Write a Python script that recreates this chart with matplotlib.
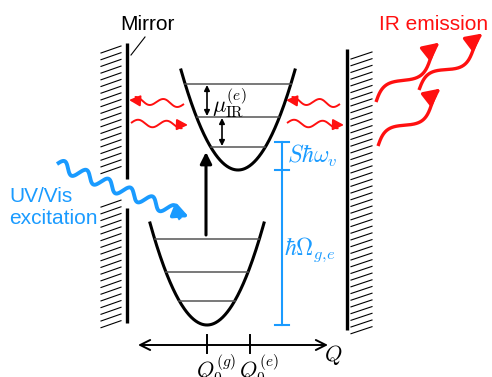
import numpy as np
import matplotlib.pyplot as plt

plt.rcParams['font.family'] = ['Liberation Sans', 'DejaVu Sans']
plt.rcParams['mathtext.fontset'] = 'cm'

RED = '#ff1010'
BLUE = '#1a9bff'
GRAY = '#555555'

# layout of the sketch, in pixel units of the 492x377 canvas
left_mirror_x = 127
left_mirror_spans = [(43, 179), (208, 323)]
right_mirror_x = 347
right_mirror_spans = [(49, 330)]

# parabolas: vertex x, vertex y, half width, height, vibrational levels (y)
excited = dict(x0=238, y0=170, half=57, h=100, levels=[84, 117, 147])
ground = dict(x0=207, y0=325, half=57, h=102, levels=[239, 272, 301])

# bracket ticks (y) for S*hbar*omega_v and hbar*Omega_ge
bracket_x = 282
bracket_ticks = [142, 170, 325]

# Q axis
q_axis_y = 345
q_axis_ends = (138, 328)
q_ticks = [207, 250]
q_tick_labels = [r'$Q_0^{(g)}$', r'$Q_0^{(e)}$']

# wavy arrows: (start, end, periods, amplitude)
cavity_waves = [((184, 104), (129, 100), 2.0, 3.5),
                ((131, 123), (188, 125), 2.0, 3.5),
                ((340, 104), (286, 100), 2.0, 3.5),
                ((287, 123), (344, 125), 2.0, 3.5)]
ir_waves = [((376, 102), (444, 48), 1.25, 7.0),
            ((419, 90), (487, 39), 1.25, 7.0),
            ((378, 146), (445, 94), 1.25, 7.0)]
uv_wave = ((57, 164), (189, 217), 6.0, 5.5)


def wavy_arrow(ax, p0, p1, periods, amp, color, lw, head, sign=1):
    p0 = np.array(p0, float)
    p1 = np.array(p1, float)
    d = p1 - p0
    length = np.hypot(*d)
    u = d / length
    n = np.array([u[1], -u[0]])
    t = np.linspace(0, 1, 400)
    pts = p0 + np.outer(t, d) + np.outer(sign * amp * np.sin(2 * np.pi * periods * t), n)
    hl = head * 0.5 * 100 / 72  # head length in px
    keep = t * length < length - 0.6 * hl
    ax.plot(pts[keep, 0], pts[keep, 1], color=color, lw=lw, solid_capstyle='butt')
    tip = pts[-1]
    ax.annotate('', xy=tip, xytext=tip - u * hl,
                arrowprops=dict(arrowstyle='-|>,head_length=0.5,head_width=0.25',
                                color=color, lw=lw,
                                mutation_scale=head, shrinkA=0, shrinkB=0))


def parabola(ax, p):
    x = np.linspace(p['x0'] - p['half'], p['x0'] + p['half'], 200)
    k = p['h'] / p['half'] ** 2
    ax.plot(x, p['y0'] - k * (x - p['x0']) ** 2, color='black', lw=2.2)
    for ly in p['levels']:
        dx = np.sqrt((p['y0'] - ly) / k)
        ax.plot([p['x0'] - dx, p['x0'] + dx], [ly, ly], color=GRAY, lw=1.1)


def mirror(ax, x, spans, side, skip=None):
    for y0, y1 in spans:
        ax.plot([x, x], [y0, y1], color='black', lw=2.4, solid_capstyle='butt')
    top = spans[0][0]
    bottom = spans[-1][1]
    for y in np.arange(top + 4, bottom + 2, 6.7):
        if skip and skip[0] < y < skip[1]:
            continue
        if side == 'left':
            ax.plot([x - 26, x - 6], [y + 6, y - 1], color='black', lw=0.8)
        else:
            ax.plot([x + 4, x + 25], [y + 6, y - 1], color='black', lw=0.8)


fig = plt.figure(figsize=(4.92, 3.77), dpi=100)
ax = fig.add_axes([0, 0, 1, 1])
ax.set_xlim(0, 492)
ax.set_ylim(377, 0)
ax.axis('off')

mirror(ax, left_mirror_x, left_mirror_spans, 'left', skip=(171, 200))
mirror(ax, right_mirror_x, right_mirror_spans, 'right')

ax.text(147, 24, 'Mirror', fontsize=15, ha='center', va='center')
ax.plot([145, 131], [37, 55], color='black', lw=0.8)

parabola(ax, excited)
parabola(ax, ground)

# vertical excitation arrow
ax.annotate('', xy=(206, 152), xytext=(206, 235),
            arrowprops=dict(arrowstyle='-|>', color='black', lw=2.2,
                            mutation_scale=17, shrinkA=0, shrinkB=0))

# level spacing arrows
ax.annotate('', xy=(207, 85), xytext=(207, 116),
            arrowprops=dict(arrowstyle='<|-|>', color='black', lw=1.2,
                            mutation_scale=8, shrinkA=0, shrinkB=0))
ax.annotate('', xy=(222, 118), xytext=(222, 146),
            arrowprops=dict(arrowstyle='<|-|>', color='black', lw=1.2,
                            mutation_scale=8, shrinkA=0, shrinkB=0))
ax.text(212, 103, r'$\mu_{\mathrm{IR}}^{(e)}$', fontsize=16, ha='left', va='center')

# energy bracket
ax.plot([bracket_x, bracket_x], [bracket_ticks[0], bracket_ticks[-1]], color=BLUE, lw=1.5)
for ty in bracket_ticks:
    ax.plot([bracket_x - 7, bracket_x + 7], [ty, ty], color=BLUE, lw=1.5)
ax.text(287, 156, r'$S\hbar\omega_v$', fontsize=17, color=BLUE, ha='left', va='center')
ax.text(284, 250, r'$\hbar\Omega_{g,\!e}$', fontsize=17, color=BLUE, ha='left', va='center')

# Q axis
ax.annotate('', xy=(q_axis_ends[0], q_axis_y), xytext=(q_axis_ends[1], q_axis_y),
            arrowprops=dict(arrowstyle='<->', color='black', lw=1.4,
                            mutation_scale=18, shrinkA=0, shrinkB=0))
for qx, lab in zip(q_ticks, q_tick_labels):
    ax.plot([qx, qx], [335, 353], color='black', lw=1.4)
    ax.text(qx + 9, 352, lab, fontsize=16, ha='center', va='top')
ax.text(333, 355, r'$Q$', fontsize=16, ha='center', va='center')

# waves
for p0, p1, per, amp in cavity_waves:
    wavy_arrow(ax, p0, p1, per, amp, RED, 1.4, 13)
for p0, p1, per, amp in ir_waves:
    wavy_arrow(ax, p0, p1, per, amp, RED, 2.4, 20)
wavy_arrow(ax, *uv_wave, BLUE, 2.8, 17)

ax.text(379, 25, 'IR emission', fontsize=15, color=RED, ha='left', va='center')
ax.text(9, 196, 'UV/Vis', fontsize=15, color=BLUE, ha='left', va='center')
ax.text(9, 218, 'excitation', fontsize=15, color=BLUE, ha='left', va='center')

fig.savefig('out.png', dpi=100)
